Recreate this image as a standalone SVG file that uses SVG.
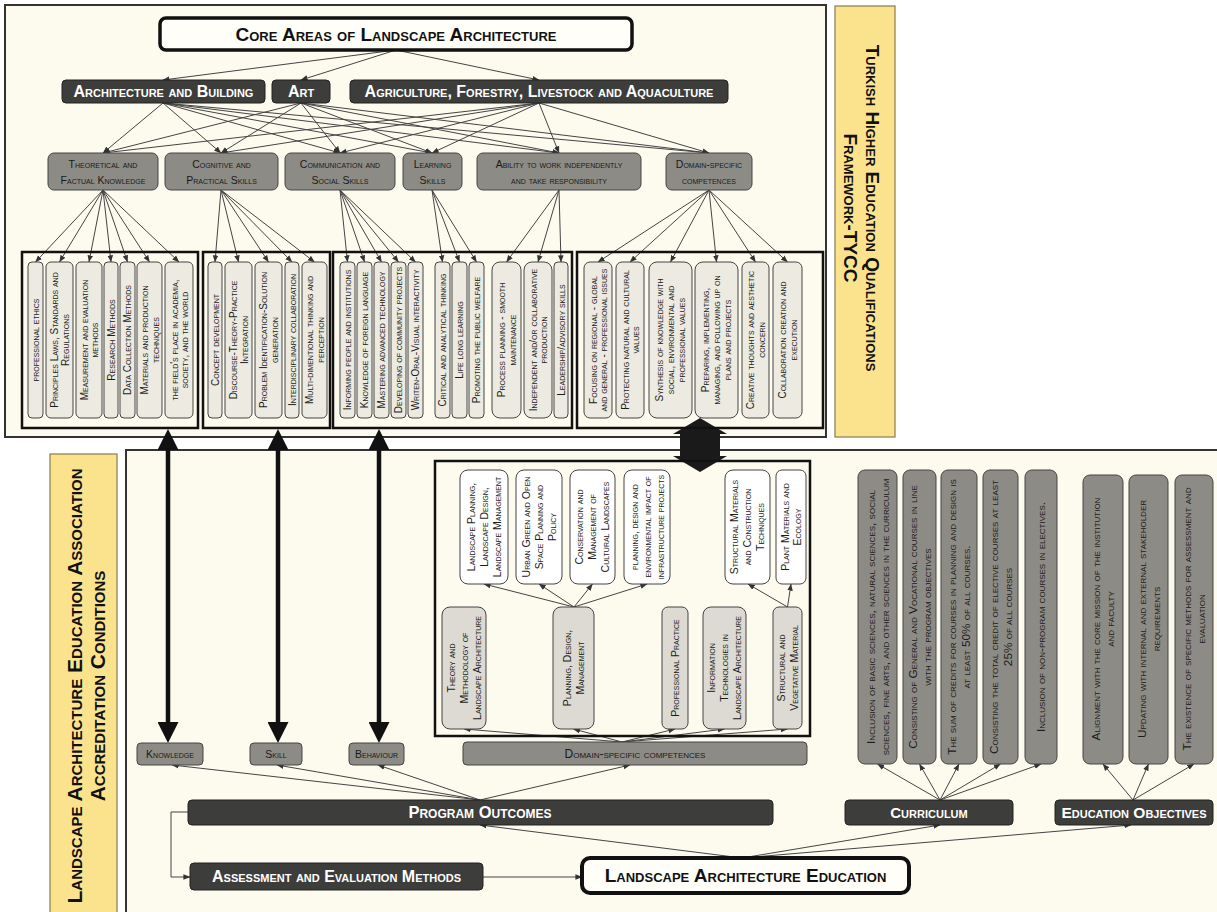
<svg xmlns="http://www.w3.org/2000/svg" width="1217" height="912" viewBox="0 0 1217 912">
<defs>
<marker id="ah" viewBox="0 0 10 10" refX="9.5" refY="5" markerWidth="7" markerHeight="7" orient="auto-start-reverse" markerUnits="userSpaceOnUse"><path d="M0,1 L10,5 L0,9 z" fill="#333"/></marker>
<marker id="big" viewBox="0 0 20 20" refX="0" refY="10" markerWidth="21" markerHeight="21" orient="auto-start-reverse" markerUnits="userSpaceOnUse"><path d="M0,0 L20,10 L0,20 z" fill="#111"/></marker>
<style>
text{font-family:"Liberation Sans",Arial,sans-serif;font-variant:small-caps;text-anchor:middle;fill:#222}
.panel{fill:#FDFAEE;stroke:#333;stroke-width:2}
.yel{fill:#FBE38E;stroke:#8a7a50;stroke-width:1.2}
.ytx{font-size:19px;font-weight:bold;fill:#111}
.core{fill:#FFFEF8;stroke:#111;stroke-width:3.5}
.coret{font-size:19px;font-weight:bold;fill:#111}
.dark{fill:#3d3d3b;stroke:#222;stroke-width:1}
.darkt{font-size:16px;font-weight:bold;fill:#fff}
.grey{fill:#8d8b85;stroke:#444;stroke-width:1}
.greyt{font-size:10.5px;fill:#1a1a1a}
.cont{fill:none;stroke:#111;stroke-width:2.5}
.item{fill:#ECEAE1;stroke:#444;stroke-width:1}
.it{font-size:10px;fill:#1a1a1a}
.wbox{fill:#fff;stroke:#444;stroke-width:1}
.gbox{fill:#DCDAD2;stroke:#444;stroke-width:1}
.bt{font-size:10.5px;fill:#1a1a1a}
.ct{font-size:11.8px;fill:#1a1a1a}
.c{stroke:#444;stroke-width:1;fill:none;marker-end:url(#ah)}
.bigc{stroke:#111;stroke-width:4.5;marker-start:url(#big);marker-end:url(#big)}
</style>
</defs>
<rect width="1217" height="912" fill="#fff"/>

<!-- panels -->
<g id="panel-top"><rect class="panel" x="5" y="5" width="821" height="432"/></g>
<g id="panel-bottom"><rect class="panel" x="126" y="450" width="1100" height="470"/></g>
<g id="tycc-label"><rect class="yel" x="835" y="6" width="60" height="431"/>
<text class="ytx" transform="translate(862,208) rotate(90)"><tspan x="0" y="-4">Turkish Higher Education Qualifications</tspan><tspan x="0" y="18">Framework-TYCC</tspan></text></g>
<g id="laea-label"><rect class="yel" x="50" y="454" width="67" height="460"/>
<text class="ytx" style="font-size:21px" transform="translate(86,686) rotate(-90)"><tspan x="0" y="-4">Landscape Architecture Education Association</tspan><tspan x="0" y="19">Accreditation Conditions</tspan></text></g>

<!-- connectors -->
<g id="connectors">
<line class="c" x1="396" y1="50" x2="163" y2="80"/>
<line class="c" x1="396" y1="50" x2="301" y2="80"/>
<line class="c" x1="396" y1="50" x2="539" y2="80"/>
<line class="c" x1="163" y1="103" x2="103" y2="153"/>
<line class="c" x1="163" y1="103" x2="221" y2="153"/>
<line class="c" x1="163" y1="103" x2="340" y2="153"/>
<line class="c" x1="163" y1="103" x2="432" y2="153"/>
<line class="c" x1="163" y1="103" x2="559" y2="153"/>
<line class="c" x1="163" y1="103" x2="709" y2="153"/>
<line class="c" x1="301" y1="103" x2="103" y2="153"/>
<line class="c" x1="301" y1="103" x2="221" y2="153"/>
<line class="c" x1="301" y1="103" x2="340" y2="153"/>
<line class="c" x1="301" y1="103" x2="432" y2="153"/>
<line class="c" x1="301" y1="103" x2="559" y2="153"/>
<line class="c" x1="301" y1="103" x2="709" y2="153"/>
<line class="c" x1="539" y1="103" x2="103" y2="153"/>
<line class="c" x1="539" y1="103" x2="221" y2="153"/>
<line class="c" x1="539" y1="103" x2="340" y2="153"/>
<line class="c" x1="539" y1="103" x2="432" y2="153"/>
<line class="c" x1="539" y1="103" x2="559" y2="153"/>
<line class="c" x1="539" y1="103" x2="709" y2="153"/>
<line class="c" x1="103" y1="190" x2="35.5" y2="262"/>
<line class="c" x1="103" y1="190" x2="59.5" y2="262"/>
<line class="c" x1="103" y1="190" x2="89" y2="262"/>
<line class="c" x1="103" y1="190" x2="111" y2="262"/>
<line class="c" x1="103" y1="190" x2="127.5" y2="262"/>
<line class="c" x1="103" y1="190" x2="149.5" y2="262"/>
<line class="c" x1="103" y1="190" x2="179" y2="262"/>
<line class="c" x1="221" y1="190" x2="215" y2="262"/>
<line class="c" x1="221" y1="190" x2="238.5" y2="262"/>
<line class="c" x1="221" y1="190" x2="268.5" y2="262"/>
<line class="c" x1="221" y1="190" x2="292" y2="262"/>
<line class="c" x1="221" y1="190" x2="314.5" y2="262"/>
<line class="c" x1="340" y1="190" x2="347.5" y2="262"/>
<line class="c" x1="340" y1="190" x2="364.5" y2="262"/>
<line class="c" x1="340" y1="190" x2="381.5" y2="262"/>
<line class="c" x1="340" y1="190" x2="398.5" y2="262"/>
<line class="c" x1="340" y1="190" x2="415.5" y2="262"/>
<line class="c" x1="432" y1="190" x2="442.5" y2="262"/>
<line class="c" x1="432" y1="190" x2="459.5" y2="262"/>
<line class="c" x1="432" y1="190" x2="476.5" y2="262"/>
<line class="c" x1="559" y1="190" x2="506.5" y2="262"/>
<line class="c" x1="559" y1="190" x2="538" y2="262"/>
<line class="c" x1="559" y1="190" x2="561" y2="262"/>
<line class="c" x1="709" y1="190" x2="598" y2="262"/>
<line class="c" x1="709" y1="190" x2="630" y2="262"/>
<line class="c" x1="709" y1="190" x2="670.5" y2="262"/>
<line class="c" x1="709" y1="190" x2="716.5" y2="262"/>
<line class="c" x1="709" y1="190" x2="755.5" y2="262"/>
<line class="c" x1="709" y1="190" x2="787.5" y2="262"/>
<line class="bigc" x1="168" y1="450" x2="168" y2="722"/>
<line class="bigc" x1="278" y1="450" x2="278" y2="722"/>
<line class="bigc" x1="379" y1="450" x2="379" y2="722"/>
<polygon points="700,418 727,434 720,434 720,456 727,456 700,472 673,456 680,456 680,434 673,434" fill="#1a1a1a"/>
<line class="c" x1="574" y1="607" x2="484" y2="584"/>
<line class="c" x1="574" y1="607" x2="539" y2="584"/>
<line class="c" x1="574" y1="607" x2="592.5" y2="584"/>
<line class="c" x1="574" y1="607" x2="647" y2="584"/>
<line class="c" x1="787.5" y1="607" x2="748" y2="584"/>
<line class="c" x1="787.5" y1="607" x2="791" y2="584"/>
<line class="c" x1="622" y1="742" x2="464" y2="729"/>
<line class="c" x1="622" y1="742" x2="573.5" y2="729"/>
<line class="c" x1="622" y1="742" x2="675" y2="729"/>
<line class="c" x1="622" y1="742" x2="724.5" y2="729"/>
<line class="c" x1="622" y1="742" x2="787.5" y2="729"/>
<line class="c" x1="480" y1="800" x2="172" y2="765"/>
<line class="c" x1="480" y1="800" x2="277" y2="765"/>
<line class="c" x1="480" y1="800" x2="378" y2="765"/>
<line class="c" x1="480" y1="800" x2="630" y2="765"/>
<path class="c" d="M188,812 H171 V877 H190"/>
<line class="c" x1="483" y1="877" x2="582" y2="877"/>
<line class="c" x1="742" y1="858" x2="480" y2="825"/>
<line class="c" x1="742" y1="858" x2="940" y2="825"/>
<line class="c" x1="742" y1="858" x2="1131" y2="825"/>
<line class="c" x1="940" y1="800" x2="877.5" y2="764"/>
<line class="c" x1="940" y1="800" x2="919.5" y2="764"/>
<line class="c" x1="940" y1="800" x2="959" y2="764"/>
<line class="c" x1="940" y1="800" x2="1000.5" y2="764"/>
<line class="c" x1="940" y1="800" x2="1041" y2="764"/>
<line class="c" x1="1133" y1="800" x2="1103" y2="764"/>
<line class="c" x1="1133" y1="800" x2="1148.5" y2="764"/>
<line class="c" x1="1133" y1="800" x2="1194" y2="764"/>
</g>

<!-- top nodes -->
<g id="core-areas"><rect class="core" x="160" y="18" width="472" height="32" rx="6"/><text class="coret" x="396" y="40.5">Core Areas of Landscape Architecture</text></g>
<g id="arch-building"><rect class="dark" x="62" y="80" width="203" height="23" rx="4"/><text class="darkt" x="163.5" y="97">Architecture and Building</text></g>
<g id="art"><rect class="dark" x="272" y="80" width="58" height="23" rx="4"/><text class="darkt" x="301" y="97">Art</text></g>
<g id="agriculture"><rect class="dark" x="350" y="80" width="378" height="23" rx="4"/><text class="darkt" x="539" y="97">Agriculture, Forestry, Livestock and Aquaculture</text></g>

<g id="tfk"><rect class="grey" x="48" y="153" width="110" height="37" rx="6"/><text class="greyt"><tspan x="103" y="168">Theoretical and</tspan><tspan x="103" y="184">Factual Knowledge</tspan></text></g>
<g id="cps"><rect class="grey" x="165" y="153" width="113" height="37" rx="6"/><text class="greyt"><tspan x="221.5" y="168">Cognitive and</tspan><tspan x="221.5" y="184">Practical Skills</tspan></text></g>
<g id="css"><rect class="grey" x="285" y="153" width="110" height="37" rx="6"/><text class="greyt"><tspan x="340" y="168">Communication and</tspan><tspan x="340" y="184">Social Skills</tspan></text></g>
<g id="ls"><rect class="grey" x="403" y="153" width="59" height="37" rx="6"/><text class="greyt"><tspan x="432.5" y="168">Learning</tspan><tspan x="432.5" y="184">Skills</tspan></text></g>
<g id="awi"><rect class="grey" x="477" y="153" width="164" height="37" rx="6"/><text class="greyt"><tspan x="559" y="168">Ability to work independently</tspan><tspan x="559" y="184">and take responsibility</tspan></text></g>
<g id="dsc-top"><rect class="grey" x="666" y="153" width="86" height="37" rx="6"/><text class="greyt"><tspan x="709" y="168">Domain-specific</tspan><tspan x="709" y="184">competences</tspan></text></g>

<!-- container 1 -->
<g id="c1"><rect class="cont" x="22" y="252" width="176" height="176"/>
<rect class="item" x="28" y="262" width="15" height="156" rx="4"/><text class="it" transform="translate(35.5,340) rotate(-90)"><tspan x="0" y="3.5">professional ethics</tspan></text>
<rect class="item" x="46" y="262" width="27" height="156" rx="5"/><text class="it" transform="translate(59.5,340) rotate(-90)"><tspan x="0" y="-1.5">Principles Laws, Standards and</tspan><tspan x="0" y="9">Regulations</tspan></text>
<rect class="item" x="76" y="262" width="26" height="156" rx="5"/><text class="it" transform="translate(89,340) rotate(-90)"><tspan x="0" y="-1.5">Measurement and evaluation</tspan><tspan x="0" y="9">methods</tspan></text>
<rect class="item" x="104" y="262" width="14" height="156" rx="4"/><text class="it" transform="translate(111,340) rotate(-90)"><tspan x="0" y="3.5">Research Methods</tspan></text>
<rect class="item" x="120" y="262" width="15" height="156" rx="4"/><text class="it" transform="translate(127.5,340) rotate(-90)"><tspan x="0" y="3.5">Data Collection Methods</tspan></text>
<rect class="item" x="137" y="262" width="25" height="156" rx="5"/><text class="it" transform="translate(149.5,340) rotate(-90)"><tspan x="0" y="-1.5">Materials and production</tspan><tspan x="0" y="9">techniques</tspan></text>
<rect class="item" x="165" y="262" width="28" height="156" rx="5"/><text class="it" transform="translate(179,340) rotate(-90)"><tspan x="0" y="-1.5">the field's place in academia,</tspan><tspan x="0" y="9">society, and the world</tspan></text>
</g>
<!-- container 2 -->
<g id="c2"><rect class="cont" x="203" y="252" width="127" height="176"/>
<rect class="item" x="208" y="262" width="14" height="156" rx="4"/><text class="it" transform="translate(215,340) rotate(-90)"><tspan x="0" y="3.5">Concept development</tspan></text>
<rect class="item" x="225" y="262" width="27" height="156" rx="5"/><text class="it" transform="translate(238.5,340) rotate(-90)"><tspan x="0" y="-1.5">Discourse-Theory-Practice</tspan><tspan x="0" y="9">Integration</tspan></text>
<rect class="item" x="255" y="262" width="27" height="156" rx="5"/><text class="it" transform="translate(268.5,340) rotate(-90)"><tspan x="0" y="-1.5">Problem Identification-Solution</tspan><tspan x="0" y="9">generation</tspan></text>
<rect class="item" x="285" y="262" width="14" height="156" rx="4"/><text class="it" transform="translate(292,340) rotate(-90)"><tspan x="0" y="3.5">Interdisciplinary collaboration</tspan></text>
<rect class="item" x="302" y="262" width="25" height="156" rx="5"/><text class="it" transform="translate(314.5,340) rotate(-90)"><tspan x="0" y="-1.5">Multi-dimentional thinking and</tspan><tspan x="0" y="9">perception</tspan></text>
</g>
<!-- container 3 -->
<g id="c3"><rect class="cont" x="333" y="252" width="239" height="176"/>
<rect class="item" x="340" y="262" width="15" height="156" rx="4"/><text class="it" transform="translate(347.5,340) rotate(-90)"><tspan x="0" y="3.5">Informing people and institutions</tspan></text>
<rect class="item" x="357" y="262" width="15" height="156" rx="4"/><text class="it" transform="translate(364.5,340) rotate(-90)"><tspan x="0" y="3.5">Knowledge of foreign language</tspan></text>
<rect class="item" x="374" y="262" width="15" height="156" rx="4"/><text class="it" transform="translate(381.5,340) rotate(-90)"><tspan x="0" y="3.5">Mastering advanced technology</tspan></text>
<rect class="item" x="391" y="262" width="15" height="156" rx="4"/><text class="it" transform="translate(398.5,340) rotate(-90)"><tspan x="0" y="3.5">Developing of community projects</tspan></text>
<rect class="item" x="408" y="262" width="15" height="156" rx="4"/><text class="it" transform="translate(415.5,340) rotate(-90)"><tspan x="0" y="3.5">Writen-Oral-Visual interactivity</tspan></text>
<rect class="item" x="435" y="262" width="15" height="156" rx="4"/><text class="it" transform="translate(442.5,340) rotate(-90)"><tspan x="0" y="3.5">Critical and analytical thinking</tspan></text>
<rect class="item" x="452" y="262" width="15" height="156" rx="4"/><text class="it" transform="translate(459.5,340) rotate(-90)"><tspan x="0" y="3.5">Life long learning</tspan></text>
<rect class="item" x="469" y="262" width="15" height="156" rx="4"/><text class="it" transform="translate(476.5,340) rotate(-90)"><tspan x="0" y="3.5">Promoting the public welfare</tspan></text>
<rect class="item" x="492" y="262" width="29" height="156" rx="8"/><text class="it" transform="translate(506.5,340) rotate(-90)"><tspan x="0" y="-1.5">Process planning - smooth</tspan><tspan x="0" y="9">maintenance</tspan></text>
<rect class="item" x="524" y="262" width="28" height="156" rx="8"/><text class="it" transform="translate(538,340) rotate(-90)"><tspan x="0" y="-1.5">Independent and/or collaborative</tspan><tspan x="0" y="9">production</tspan></text>
<rect class="item" x="554" y="262" width="14" height="156" rx="4"/><text class="it" transform="translate(561,340) rotate(-90)"><tspan x="0" y="3.5">Leadership/advisory skills</tspan></text>
</g>
<!-- container 4 -->
<g id="c4"><rect class="cont" x="577" y="252" width="246" height="176"/>
<rect class="item" x="584" y="262" width="28" height="156" rx="6"/><text class="it" transform="translate(598,340) rotate(-90)"><tspan x="0" y="-1.5">Focusing on regional - global</tspan><tspan x="0" y="9">and general - professional issues</tspan></text>
<rect class="item" x="616" y="262" width="28" height="156" rx="6"/><text class="it" transform="translate(630,340) rotate(-90)"><tspan x="0" y="-1.5">Protecting natural and cultural</tspan><tspan x="0" y="9">values</tspan></text>
<rect class="item" x="649" y="262" width="43" height="156" rx="8"/><text class="it" transform="translate(670.5,340) rotate(-90)"><tspan x="0" y="-7.5">Synthesis of knowledge with</tspan><tspan x="0" y="3.5">social, environmental and</tspan><tspan x="0" y="14.5">professional values</tspan></text>
<rect class="item" x="695" y="262" width="43" height="156" rx="8"/><text class="it" transform="translate(716.5,340) rotate(-90)"><tspan x="0" y="-7.5">Preparing, implementing,</tspan><tspan x="0" y="3.5">managing, and following up on</tspan><tspan x="0" y="14.5">plans and projects</tspan></text>
<rect class="item" x="742" y="262" width="27" height="156" rx="6"/><text class="it" transform="translate(755.5,340) rotate(-90)"><tspan x="0" y="-1.5">Creative thoughts and aesthetic</tspan><tspan x="0" y="9">concern</tspan></text>
<rect class="item" x="773" y="262" width="29" height="156" rx="6"/><text class="it" transform="translate(787.5,340) rotate(-90)"><tspan x="0" y="-1.5">Collaboration creation and</tspan><tspan x="0" y="9">execution</tspan></text>
</g>

<!-- bottom inner box -->
<g id="domain-box"><rect class="cont" x="435" y="461" width="375" height="275"/></g>
<g id="w1"><rect class="wbox" x="460" y="470" width="48" height="114" rx="8"/><text class="bt" transform="translate(484,527) rotate(-90)"><tspan x="0" y="-9.5">Landscape Planning,</tspan><tspan x="0" y="3.5">Landscape Design,</tspan><tspan x="0" y="16.5">Landscape Management</tspan></text></g>
<g id="w2"><rect class="wbox" x="516" y="470" width="46" height="114" rx="8"/><text class="bt" transform="translate(539,527) rotate(-90)"><tspan x="0" y="-9.5">Urban Green and Open</tspan><tspan x="0" y="3.5">Space Planning and</tspan><tspan x="0" y="16.5">Policy</tspan></text></g>
<g id="w3"><rect class="wbox" x="570" y="470" width="45" height="114" rx="8"/><text class="bt" transform="translate(592.5,527) rotate(-90)"><tspan x="0" y="-9.5">Conservation and</tspan><tspan x="0" y="3.5">Management of</tspan><tspan x="0" y="16.5">Cultural Landscapes</tspan></text></g>
<g id="w4"><rect class="wbox" x="624" y="470" width="46" height="114" rx="8"/><text class="bt" style="font-size:10px" transform="translate(647,527) rotate(-90)"><tspan x="0" y="-9.5">planning, design and</tspan><tspan x="0" y="3.5">environmental impact of</tspan><tspan x="0" y="16.5">infrastructure projects</tspan></text></g>
<g id="w5"><rect class="wbox" x="725" y="470" width="45" height="114" rx="8"/><text class="bt" transform="translate(747.5,527) rotate(-90)"><tspan x="0" y="-9.5">Structural Materials</tspan><tspan x="0" y="3.5">and Construction</tspan><tspan x="0" y="16.5">Techniques</tspan></text></g>
<g id="w6"><rect class="wbox" x="776" y="470" width="30" height="114" rx="6"/><text class="bt" transform="translate(791,527) rotate(-90)"><tspan x="0" y="-2.5">Plant Materials and</tspan><tspan x="0" y="10">Ecology</tspan></text></g>

<g id="g1"><rect class="gbox" x="442" y="607" width="44" height="122" rx="8"/><text class="bt" transform="translate(464,668) rotate(-90)"><tspan x="0" y="-9.5">Theory and</tspan><tspan x="0" y="3.5">Methodology of</tspan><tspan x="0" y="16.5">Landscape Architecture</tspan></text></g>
<g id="g2"><rect class="gbox" x="553" y="607" width="41" height="122" rx="8"/><text class="bt" transform="translate(573.5,668) rotate(-90)"><tspan x="0" y="-2.5">Planning, Design,</tspan><tspan x="0" y="10">Management</tspan></text></g>
<g id="g3"><rect class="gbox" x="662" y="607" width="26" height="122" rx="6"/><text class="bt" transform="translate(675,668) rotate(-90)"><tspan x="0" y="3.5">Professional Practice</tspan></text></g>
<g id="g4"><rect class="gbox" x="703" y="607" width="43" height="122" rx="8"/><text class="bt" transform="translate(724.5,668) rotate(-90)"><tspan x="0" y="-9.5">Information</tspan><tspan x="0" y="3.5">Technologies in</tspan><tspan x="0" y="16.5">Landscape Architecture</tspan></text></g>
<g id="g5"><rect class="gbox" x="773" y="607" width="29" height="122" rx="6"/><text class="bt" transform="translate(787.5,668) rotate(-90)"><tspan x="0" y="-2.5">Structural and</tspan><tspan x="0" y="10">Vegetative Material</tspan></text></g>

<!-- bottom row -->
<g id="knowledge"><rect class="grey" x="137" y="743" width="66" height="22" rx="4"/><text class="greyt" x="170" y="758">Knowledge</text></g>
<g id="skill"><rect class="grey" x="250" y="743" width="52" height="22" rx="4"/><text class="greyt" x="276" y="758">Skill</text></g>
<g id="behaviour"><rect class="grey" x="349" y="743" width="55" height="22" rx="4"/><text class="greyt" x="376.5" y="758">Behaviour</text></g>
<g id="dsc-bottom"><rect class="grey" x="463" y="742" width="344" height="23" rx="4"/><text class="greyt" style="font-size:12px" x="635" y="757.5">Domain-specific competences</text></g>

<g id="program-outcomes"><rect class="dark" x="188" y="800" width="585" height="25" rx="4"/><text class="darkt" style="font-size:16.5px" x="480" y="818">Program Outcomes</text></g>
<g id="assessment"><rect class="dark" x="190" y="863" width="293" height="27" rx="4"/><text class="darkt" x="336.5" y="882">Assessment and Evaluation Methods</text></g>
<g id="lae"><rect class="core" x="582" y="858" width="327" height="35" rx="8" style="stroke-width:4"/><text class="coret" x="745.5" y="882">Landscape Architecture Education</text></g>
<g id="curriculum"><rect class="dark" x="845" y="800" width="168" height="25" rx="4"/><text class="darkt" style="font-size:15px" x="929" y="818">Curriculum</text></g>
<g id="edu-objectives"><rect class="dark" x="1055" y="800" width="158" height="25" rx="4"/><text class="darkt" style="font-size:15.5px" x="1134" y="818">Education Objectives</text></g>

<g id="k1"><rect class="grey" x="858" y="470" width="39" height="294" rx="7"/><text class="ct" transform="translate(877.5,617) rotate(-90)"><tspan x="0" y="-3">Inclusion of basic sciences, natural sciences, social</tspan><tspan x="0" y="11">sciences, fine arts, and other sciences in the curriculum</tspan></text></g>
<g id="k2"><rect class="grey" x="903" y="470" width="33" height="294" rx="7"/><text class="ct" transform="translate(919.5,617) rotate(-90)"><tspan x="0" y="-2.5">Consisting of General and Vocational courses in line</tspan><tspan x="0" y="11">with the program objectives</tspan></text></g>
<g id="k3"><rect class="grey" x="941" y="470" width="36" height="294" rx="7"/><text class="ct" transform="translate(959,617) rotate(-90)"><tspan x="0" y="-3">The sum of credits for courses in planning and design is</tspan><tspan x="0" y="11">at least 50% of all courses.</tspan></text></g>
<g id="k4"><rect class="grey" x="983" y="470" width="35" height="294" rx="7"/><text class="ct" transform="translate(1000.5,617) rotate(-90)"><tspan x="0" y="-3">Consisting the total credit of elective courses  at least</tspan><tspan x="0" y="11">25% of all courses</tspan></text></g>
<g id="k5"><rect class="grey" x="1025" y="470" width="32" height="294" rx="7"/><text class="ct" transform="translate(1041,617) rotate(-90)"><tspan x="0" y="4">Inclusion of non-program courses in electives.</tspan></text></g>

<g id="e1"><rect class="grey" x="1083" y="475" width="40" height="289" rx="7"/><text class="ct" transform="translate(1103,619) rotate(-90)"><tspan x="0" y="-3">Alignment with the core mission of the institution</tspan><tspan x="0" y="11">and faculty</tspan></text></g>
<g id="e2"><rect class="grey" x="1129" y="475" width="39" height="289" rx="7"/><text class="ct" transform="translate(1148.5,619) rotate(-90)"><tspan x="0" y="-3">Updating with internal and external stakeholder</tspan><tspan x="0" y="11">requirements</tspan></text></g>
<g id="e3"><rect class="grey" x="1175" y="475" width="38" height="289" rx="7"/><text class="ct" transform="translate(1194,619) rotate(-90)"><tspan x="0" y="-3">The existence of specific methods for assessment and</tspan><tspan x="0" y="11">evaluation</tspan></text></g>
</svg>
